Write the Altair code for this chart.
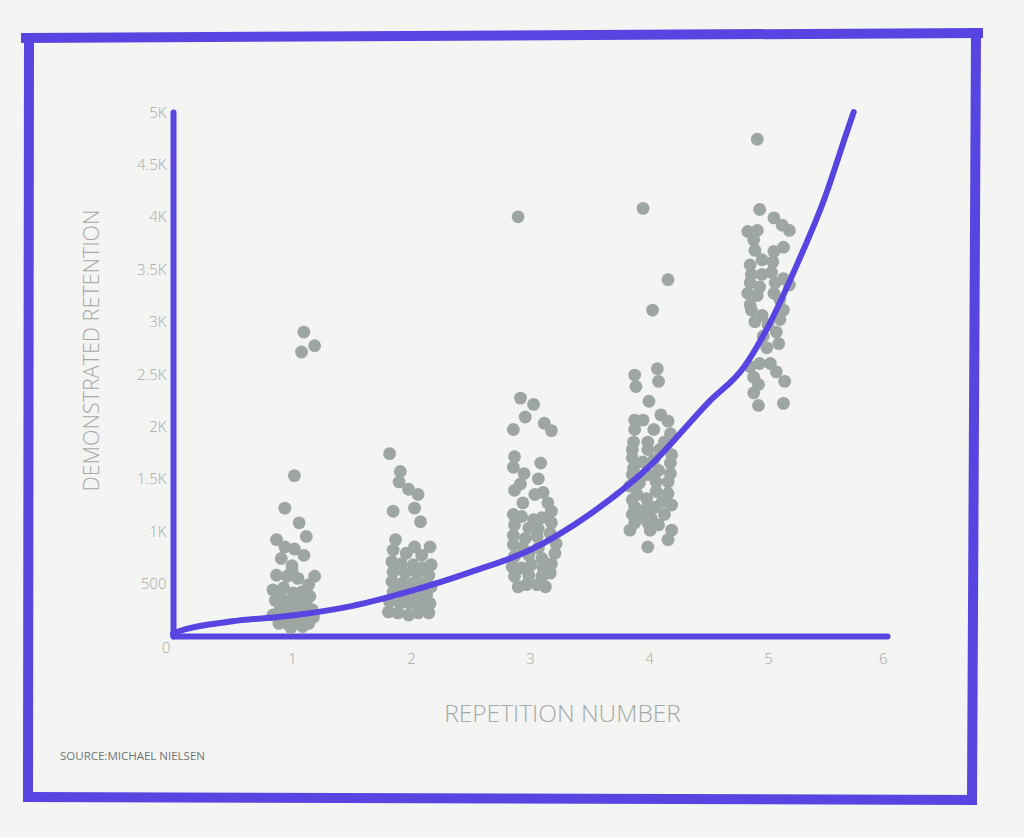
import altair as alt
import pandas as pd

PURPLE = "#5844e1"
DOT = "#9ea6a3"
INK = "#a3aaa7"
BG = "#f4f4f3"
FONT = "Open Sans"

# Demonstrated retention (days) per card, grouped by repetition number.
# x carries the horizontal jitter used to spread each group.
rep1_x = [1.02, 0.94, 1.06, 1.12, 0.87, 0.94, 1.02, 1.10, 0.91, 1.00, 0.87, 0.96, 1.05, 1.19,
          1.14, 0.84, 0.93, 1.01, 1.08, 1.15, 0.86, 0.96, 1.05, 1.12, 0.90, 0.98, 1.08, 1.17,
          0.84, 0.93, 1.03, 1.11, 1.18, 0.89, 0.97, 1.05, 1.14, 0.99, 1.09, 1.00, 0.90, 1.12,
          1.00, 1.10, 1.19, 1.08]
rep1_y = [1530, 1220, 1080, 950, 920, 850, 830, 770, 740, 670, 580, 570, 550, 570,
          490, 440, 460, 410, 420, 380, 340, 330, 310, 310, 260, 230, 250, 250,
          200, 180, 180, 180, 180, 120, 110, 120, 120, 80, 90, 620, 380, 140,
          260, 2900, 2770, 2710]

rep2_x = [1.82, 1.91, 1.90, 1.98, 2.06, 2.03, 1.85, 2.08, 1.87, 2.16, 2.03, 1.85, 1.96, 2.09,
          1.84, 1.92, 2.02, 2.17, 2.10, 1.85, 1.95, 2.05, 2.15, 1.84, 1.92, 2.01, 2.09, 2.17,
          1.85, 1.95, 2.05, 2.13, 1.82, 1.91, 1.99, 2.08, 2.16, 1.81, 1.89, 1.98, 2.06, 2.15]
rep2_y = [1740, 1570, 1470, 1400, 1350, 1220, 1190, 1090, 920, 850, 850, 820, 790, 770,
          710, 690, 680, 680, 650, 610, 600, 600, 580, 520, 500, 500, 500, 470,
          420, 410, 390, 390, 330, 310, 310, 300, 310, 230, 220, 200, 220, 220]

rep3_x = [2.92, 3.03, 2.96, 3.12, 3.18, 2.86, 2.87, 3.09, 2.86, 2.95, 3.07, 2.92, 2.87, 3.04,
          3.11, 2.94, 3.15, 3.18, 2.86, 2.93, 3.03, 3.10, 2.87, 2.99, 3.07, 3.18, 2.86, 2.96,
          3.06, 3.17, 2.86, 2.94, 3.07, 3.22, 2.87, 2.99, 3.10, 3.21, 2.85, 2.93, 3.01, 3.11,
          3.18, 2.87, 2.99, 3.10, 3.17, 2.90, 2.97, 3.06, 3.13, 2.90]
rep3_y = [2270, 2210, 2090, 2030, 1960, 1970, 1710, 1650, 1610, 1550, 1500, 1450, 1390, 1350,
          1370, 1270, 1270, 1190, 1160, 1140, 1110, 1130, 1060, 1030, 1020, 1080, 960, 930,
          950, 980, 870, 840, 840, 880, 760, 770, 740, 790, 660, 650, 680, 650,
          690, 570, 580, 570, 600, 470, 490, 490, 470, 4000]

rep4_x = [4.07, 3.88, 4.08, 3.89, 4.00, 3.88, 3.95, 4.10, 4.16, 3.88, 4.04, 4.18, 3.87, 3.99,
          4.13, 3.86, 3.99, 4.09, 4.19, 3.86, 3.95, 4.04, 4.18, 3.87, 3.99, 4.08, 4.18, 3.86,
          3.92, 4.06, 4.16, 3.84, 3.90, 4.06, 4.16, 3.86, 3.98, 4.11, 4.19, 3.88, 3.98, 4.05,
          3.86, 3.94, 4.02, 4.13, 3.88, 3.99, 4.08, 3.84, 4.01, 4.19, 4.16, 3.99, 3.95, 4.16,
          4.03]
rep4_y = [2550, 2490, 2430, 2380, 2240, 2060, 2060, 2110, 2050, 1970, 1970, 1930, 1850, 1850,
          1850, 1780, 1780, 1780, 1730, 1700, 1660, 1680, 1650, 1600, 1540, 1580, 1550, 1540,
          1460, 1470, 1470, 1430, 1350, 1380, 1360, 1300, 1310, 1280, 1250, 1230, 1220, 1230,
          1160, 1140, 1120, 1160, 1080, 1080, 1060, 1010, 1010, 1010, 920, 850, 4080, 3400,
          3110]

rep5_x = [4.93, 5.05, 5.12, 5.18, 4.83, 4.91, 4.88, 5.13, 5.05, 4.89, 4.95, 5.04, 4.85, 5.03,
          4.95, 4.86, 5.13, 4.85, 5.06, 5.18, 4.93, 4.83, 4.91, 5.05, 5.10, 4.85, 5.13, 4.86,
          4.95, 5.00, 4.89, 5.10, 5.07, 4.96, 5.09, 4.99, 4.85, 4.93, 5.02, 5.07, 4.88, 5.14,
          4.92, 4.88, 4.92, 5.13, 4.91]
rep5_y = [4070, 3990, 3920, 3870, 3860, 3870, 3780, 3710, 3670, 3680, 3590, 3570, 3540, 3470,
          3450, 3450, 3410, 3370, 3370, 3350, 3330, 3270, 3250, 3270, 3210, 3160, 3110, 3110,
          3060, 2970, 3000, 3020, 2900, 2860, 2790, 2750, 2570, 2600, 2600, 2520, 2470, 2430,
          2400, 2320, 2200, 2220, 4740]

# Fitted retention curve
curve_x = [0.0, 0.05, 0.5, 1.0, 1.5, 2.0, 2.5, 3.0, 3.5, 4.0, 4.5, 4.8, 5.0, 5.25,
           5.47, 5.66, 5.72]
curve_y = [20, 45, 140, 195, 285, 430, 610, 820, 1160, 1615, 2230, 2570, 2950, 3560,
           4160, 4800, 5000]

x_ticks = [0, 1, 2, 3, 4, 5, 6]
y_ticks = [0, 500, 1000, 1500, 2000, 2500, 3000, 3500, 4000, 4500, 5000]

groups = [(1, rep1_x, rep1_y), (2, rep2_x, rep2_y), (3, rep3_x, rep3_y),
          (4, rep4_x, rep4_y), (5, rep5_x, rep5_y)]
points_df = pd.concat(
    [pd.DataFrame({"rep": r, "x": xs, "y": ys}) for r, xs, ys in groups],
    ignore_index=True,
)
curve_df = pd.DataFrame({"x": curve_x, "y": curve_y})

x_scale = alt.Scale(domain=[0, 6], nice=False, zero=True)
y_scale = alt.Scale(domain=[0, 5000], nice=False)

x_axis = alt.Axis(
    values=x_ticks,
    labelExpr="datum.value == 0 ? '' : datum.label",
    format="d",
    ticks=False,
    grid=False,
    domainColor=PURPLE,
    domainWidth=6,
    domainCap="round",
    labelFont=FONT,
    labelFontWeight=300,
    labelFontSize=15,
    labelColor=INK,
    labelPadding=15,
    title="REPETITION NUMBER",
    titleFont=FONT,
    titleFontWeight=300,
    titleFontSize=24.5,
    titleColor=INK,
    titleX=389,
    titleY=78,
    titleAlign="center",
    titleBaseline="middle",
)

y_axis = alt.Axis(
    values=y_ticks,
    labelExpr="datum.value == 0 ? '' : (datum.value < 1000 ? datum.value + '' : format(datum.value / 1000, '~g') + 'K')",
    ticks=False,
    grid=False,
    domainColor=PURPLE,
    domainWidth=6,
    domainCap="round",
    labelFont=FONT,
    labelFontWeight=300,
    labelFontSize=15,
    labelColor=INK,
    labelPadding=7,
    title="DEMONSTRATED RETENTION",
    titleFont=FONT,
    titleFontWeight=300,
    titleFontSize=21.5,
    titleColor=INK,
    titleAngle=270,
    titleX=-81,
    titleY=238,
    titleAlign="center",
    titleBaseline="middle",
)

points = alt.Chart(points_df).mark_circle(size=165, color=DOT, opacity=1).encode(
    x=alt.X("x:Q", scale=x_scale, axis=x_axis),
    y=alt.Y("y:Q", scale=y_scale, axis=y_axis),
)

curve = alt.Chart(curve_df).mark_line(
    color=PURPLE, strokeWidth=6, interpolate="monotone", strokeCap="round"
).encode(
    x=alt.X("x:Q", scale=x_scale),
    y=alt.Y("y:Q", scale=y_scale),
)

one = alt.Data(values=[{}])

origin_label = alt.Chart(one).mark_text(
    text="0", font=FONT, fontWeight=300, fontSize=15, color=INK,
    align="center", baseline="middle", dx=-7, dy=12,
).encode(x=alt.datum(0, scale=x_scale), y=alt.datum(0, scale=y_scale))

source = alt.Chart(one).mark_text(
    text="SOURCE:MICHAEL NIELSEN", font=FONT, fontSize=11.5, color="#6f7572",
    align="left", baseline="middle",
).encode(x=alt.value(-113), y=alt.value(645))

# Hand-drawn frame around the whole figure
def edge(x1, y1, x2, y2):
    return alt.Chart(one).mark_rule(color=PURPLE, strokeWidth=10, strokeCap="square").encode(
        x=alt.value(x1), y=alt.value(y1), x2=alt.value(x2), y2=alt.value(y2)
    )

frame = [
    edge(-147, -74, 805, -79),
    edge(803, -79, 799, 688),
    edge(-145, 685, 799, 688),
    edge(-144, -74, -145, 685),
]

chart = alt.layer(points, curve, origin_label, source, *frame).properties(
    width=714,
    height=524,
    padding={"left": 173, "top": 112, "right": 137, "bottom": 201},
    autosize=alt.AutoSizeParams(type="none"),
    background=BG,
).configure_view(stroke=None)

chart.save("out.html", embed_options={"renderer": "svg", "actions": False})
